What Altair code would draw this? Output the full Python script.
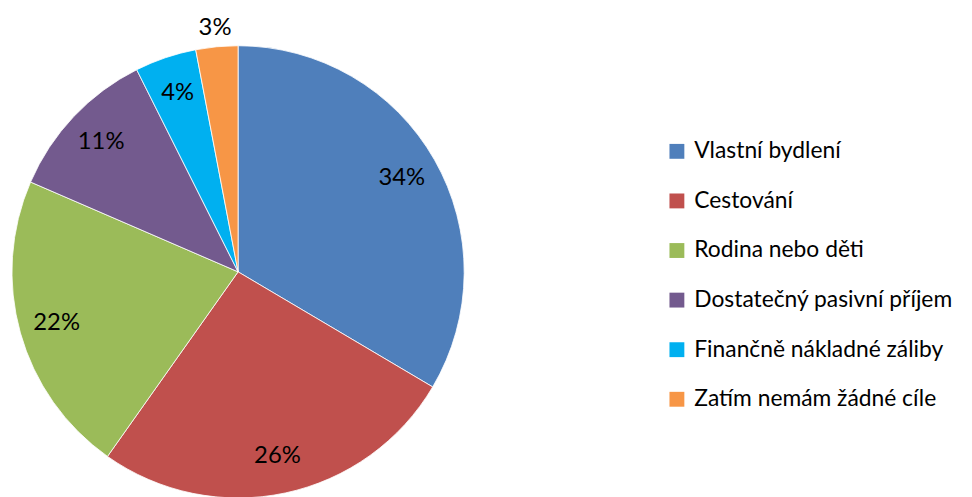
import altair as alt
import pandas as pd

categories = [
    "Vlastní bydlení",
    "Cestování",
    "Rodina nebo děti",
    "Dostatečný pasivní příjem",
    "Finančně nákladné záliby",
    "Zatím nemám žádné cíle",
]
values = [33.5, 26.3, 21.7, 11.1, 4.4, 3.0]
labels = ["34%", "26%", "22%", "11%", "4%", "3%"]
colors = ["#4F7FBB", "#C0504D", "#9BBB59", "#735A8E", "#00B0F0", "#F79646"]

df = pd.DataFrame({"cat": categories, "value": values, "label": labels, "idx": list(range(len(categories)))})

FONT = "Lato"
CX, CY = 232, 264

base = alt.Chart(df).encode(
    theta=alt.Theta("value:Q", stack=True),
    order=alt.Order("idx:Q", sort="ascending"),
    x=alt.value(CX),
    y=alt.value(CY),
)

arcs = base.mark_arc(outerRadius=228, stroke="white", strokeWidth=0.8).encode(
    color=alt.Color(
        "cat:N",
        scale=alt.Scale(domain=categories, range=colors),
        sort=categories,
        legend=alt.Legend(
            title=None,
            orient="none",
            legendX=663,
            legendY=131,
            symbolType="square",
            symbolSize=225,
            symbolStrokeWidth=0,
            labelFont=FONT,
            labelFontSize=23,
            labelColor="#000000",
            labelOffset=6,
            rowPadding=26,
            padding=0,
            labelLimit=400,
        ),
    )
)

inner = base.transform_calculate(t="datum.value >= 4 ? datum.label : ''").mark_text(
    radius=190, font=FONT, fontSize=24, color="#000000"
).encode(text="t:N")

outer = base.transform_calculate(t="datum.value < 4 ? datum.label : ''").mark_text(
    radius=247, font=FONT, fontSize=24, color="#000000"
).encode(text="t:N")

chart = (
    alt.layer(arcs, inner, outer)
    .properties(width=964, height=489, autosize=alt.AutoSizeParams(type="none"), padding=0)
    .configure_view(stroke=None)
)

chart.save("out.html", embed_options={"renderer": "svg", "actions": False})
